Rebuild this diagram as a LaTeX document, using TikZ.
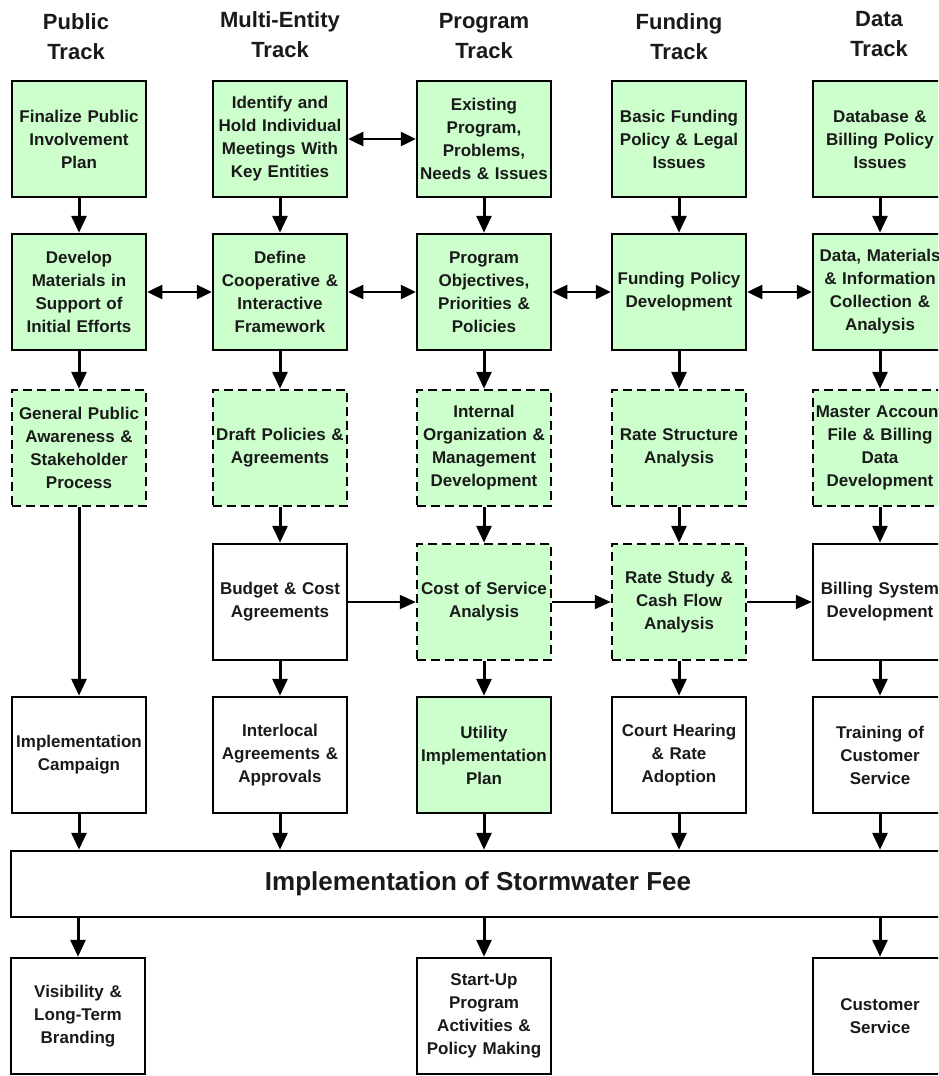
\documentclass[tikz,border=0pt]{standalone}
\usepackage{fontspec}
\setmainfont{Liberation Sans}
\usetikzlibrary{arrows.meta}
\definecolor{boxgreen}{HTML}{CCFFCC}
\definecolor{txt}{HTML}{1A1A1A}
\begin{document}
\begin{tikzpicture}[x=1pt,y=-1pt,
  box/.style={draw=black, line width=2.5pt, minimum width=134pt, minimum height=116pt,
    inner sep=0pt, align=center, text width=134pt, text=txt,
    font=\fontsize{17}{23}\selectfont\bfseries},
  gbox/.style={box, fill=boxgreen},
  wbox/.style={box, fill=white},
  dsh/.style={dash pattern=on 9pt off 5pt},
  hdr/.style={align=center, anchor=north, inner sep=0pt, text=txt,
    font=\fontsize{22}{30}\selectfont\bfseries},
  varr/.style={line width=3pt, -{Triangle[length=17pt,width=15pt]}},
  darr/.style={line width=2.5pt, {Triangle[length=15pt,width=14pt]}-{Triangle[length=15pt,width=14pt]}},
  harr/.style={line width=2pt, -{Triangle[length=16pt,width=14pt]}},
]
\useasboundingbox (0,0) rectangle (938,1076);
\clip (0,0) rectangle (938,1076);
\fill[white] (0,0) rectangle (938,1076);

% headers
\node[hdr] (h1) at (76,13) {Public\\Track};
\node[hdr] (h2) at (280,11) {Multi-Entity\\Track};
\node[hdr] (h3) at (484,13) {Program\\Track};
\node[hdr] (h4) at (679,13) {Funding\\Track};
\node[hdr] (h5) at (879,11) {Data\\Track};

% row 1
\node[gbox] (a1) at (79,139) {Finalize Public\\Involvement\\Plan};
\node[gbox] (b1) at (280,139) {Identify and\\Hold Individual\\Meetings With\\Key Entities};
\node[gbox] (c1) at (484,139) {Existing\\Program,\\Problems,\\Needs \& Issues};
\node[gbox] (d1) at (679,139) {Basic Funding\\Policy \& Legal\\Issues};
\node[gbox] (e1) at (880,139) {Database \&\\Billing Policy\\Issues};

% row 2
\node[gbox] (a2) at (79,292) {Develop\\Materials in\\Support of\\Initial Efforts};
\node[gbox] (b2) at (280,292) {Define\\Cooperative \&\\Interactive\\Framework};
\node[gbox] (c2) at (484,292) {Program\\Objectives,\\Priorities \&\\Policies};
\node[gbox] (d2) at (679,292) {Funding Policy\\Development};
\node[gbox] (e2) at (880,292) {Data, Materials\\\& Information\\Collection \&\\Analysis};

% row 3
\node[gbox,dsh] (a3) at (79,448) {General Public\\Awareness \&\\Stakeholder\\Process};
\node[gbox,dsh] (b3) at (280,448) {Draft Policies \&\\Agreements};
\node[gbox,dsh] (c3) at (484,448) {Internal\\Organization \&\\Management\\Development};
\node[gbox,dsh] (d3) at (679,448) {Rate Structure\\Analysis};
\node[gbox,dsh] (e3) at (880,448) {Master Account\\File \& Billing\\Data\\Development};

% row 4
\node[wbox] (b4) at (280,602) {Budget \& Cost\\Agreements};
\node[gbox,dsh] (c4) at (484,602) {Cost of Service\\Analysis};
\node[gbox,dsh] (d4) at (679,602) {Rate Study \&\\Cash Flow\\Analysis};
\node[wbox] (e4) at (880,602) {Billing System\\Development};

% row 5
\node[wbox] (a5) at (79,755) {Implementation\\Campaign};
\node[wbox] (b5) at (280,755) {Interlocal\\Agreements \&\\Approvals};
\node[gbox] (c5) at (484,755) {Utility\\Implementation\\Plan};
\node[wbox] (d5) at (679,755) {Court Hearing\\\& Rate\\Adoption};
\node[wbox] (e5) at (880,755) {Training of\\Customer\\Service};

% stormwater fee
\node[draw=black, line width=2.5pt, fill=white, minimum width=934pt, minimum height=66pt,
  inner sep=0pt, text=txt, font=\fontsize{26}{30}\selectfont\bfseries]
  (sw) at (478,884) {Implementation of Stormwater Fee};

% row 6
\node[wbox] (a6) at (78,1016) {Visibility \&\\Long-Term\\Branding};
\node[wbox] (c6) at (484,1016) {Start-Up\\Program\\Activities \&\\Policy Making};
\node[wbox] (e6) at (880,1016) {Customer\\Service};

% vertical arrows
\foreach \u/\v in {a1/a2,b1/b2,c1/c2,d1/d2,e1/e2,
                   a2/a3,b2/b3,c2/c3,d2/d3,e2/e3,
                   b3/b4,c3/c4,d3/d4,e3/e4,
                   a3/a5,b4/b5,c4/c5,d4/d5,e4/e5}
  \draw[varr] (\u.south) -- (\v.north);
\foreach \u in {a5,b5,c5,d5,e5}
  \draw[varr] (\u.south) -- (\u.south |- sw.north);
\foreach \v in {a6,c6,e6}
  \draw[varr] (sw.south -| \v.north) -- (\v.north);

% double arrows
\draw[darr] (b1.east) -- (c1.west);
\foreach \u/\v in {a2/b2,b2/c2,c2/d2,d2/e2}
  \draw[darr] (\u.east) -- (\v.west);

% row 4 horizontal arrows
\foreach \u/\v in {b4/c4,c4/d4,d4/e4}
  \draw[harr] (\u.east) -- (\v.west);
\end{tikzpicture}
\end{document}
